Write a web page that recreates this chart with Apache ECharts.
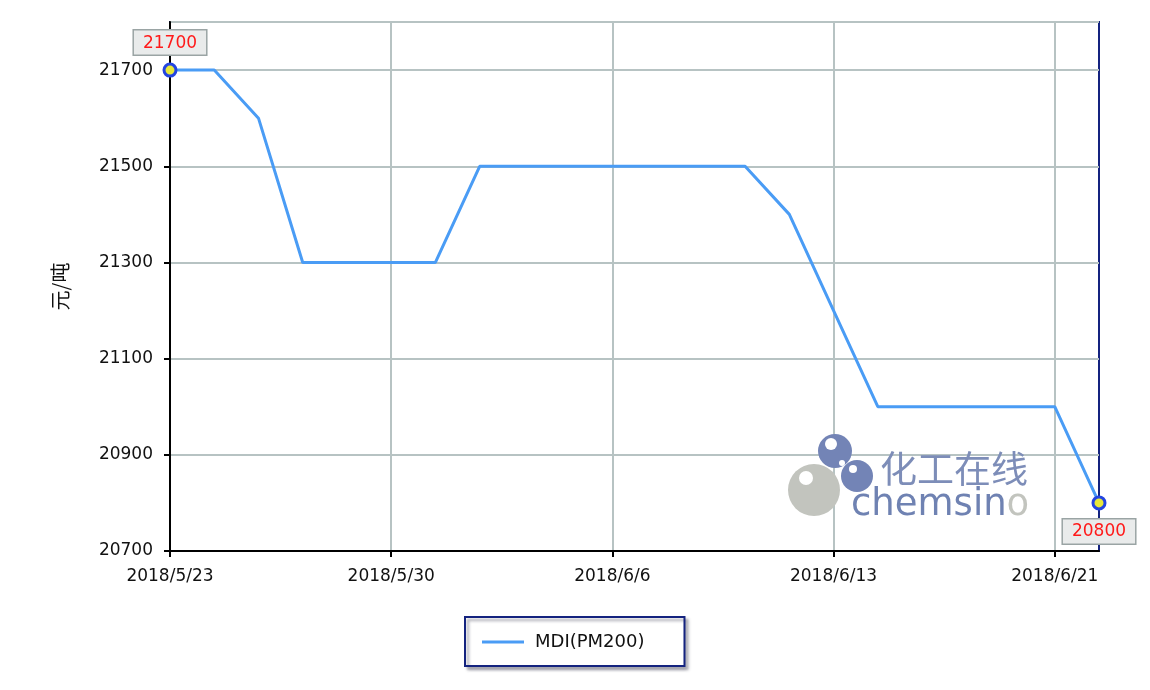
<!DOCTYPE html>
<html><head><meta charset="utf-8">
<script src="https://cdn.jsdelivr.net/npm/echarts@6/dist/echarts.min.js"></script>
<style>html,body{margin:0;padding:0;background:#fff}#c{width:1150px;height:690px}</style>
</head><body><div id="c"></div>
<script>
const categories = ['2018/5/23','2018/5/24','2018/5/25','2018/5/28','2018/5/29','2018/5/30','2018/5/31','2018/6/1','2018/6/4','2018/6/5','2018/6/6','2018/6/7','2018/6/8','2018/6/11','2018/6/12','2018/6/13','2018/6/14','2018/6/15','2018/6/19','2018/6/20','2018/6/21','2018/6/22'];
const values = [21700,21700,21600,21300,21300,21300,21300,21500,21500,21500,21500,21500,21500,21500,21400,21200,21000,21000,21000,21000,21000,20800];
const seriesName = 'MDI(PM200)';
const yAxisName = '元/吨';

const font = '"DejaVu Sans", Arial, sans-serif';
const labelBox = {show:true, color:'#ff1a1a', fontSize:17, fontFamily:font, backgroundColor:'#e9ebeb', borderColor:'#9aa4a4', borderWidth:1.5, padding:[4,9,3,9]};
const data = values.map((v,i)=>{
  if(i===0) return {value:v, symbol:'circle', symbolSize:12, label:Object.assign({position:'top', distance:8, formatter:'{c}'},labelBox)};
  if(i===values.length-1) return {value:v, symbol:'circle', symbolSize:12, label:Object.assign({position:'bottom', distance:9, formatter:'{c}'},labelBox)};
  return {value:v, symbol:'none'};
});

const chart = echarts.init(document.getElementById('c'));
chart.setOption({
  animation:false,
  textStyle:{fontFamily:font},
  grid:{left:170, right:51, top:22, bottom:139, show:true, borderColor:'#14237f', borderWidth:2, backgroundColor:'transparent'},
  xAxis:{type:'category', data:categories, boundaryGap:false,
    axisLine:{lineStyle:{color:'#000', width:2}},
    axisTick:{show:true, interval:4, length:6, lineStyle:{color:'#000', width:2}},
    axisLabel:{interval:4, color:'#111', fontSize:17, fontFamily:font, margin:17},
    splitLine:{show:true, interval:4, lineStyle:{color:'#b7c3c3', width:2}}},
  yAxis:{type:'value', min:20700, max:21800, interval:200, name:yAxisName, nameLocation:'middle', nameGap:100,
    nameTextStyle:{fontSize:20, color:'#111', fontFamily:'"Noto Sans CJK SC", sans-serif'},
    axisLine:{show:true, lineStyle:{color:'#000', width:2}},
    axisTick:{show:true, length:6, lineStyle:{color:'#000', width:2}},
    axisLabel:{color:'#111', fontSize:17, fontFamily:font, margin:17, showMaxLabel:false, formatter:v=>String(v)},
    splitLine:{show:true, lineStyle:{color:'#b7c3c3', width:2}}},
  legend:{left:465, top:617, data:[{name:seriesName, icon:'path://M0,4 L40,4 L40,7 L0,7 Z'}], itemWidth:42, itemHeight:7, itemGap:10,
    padding:[16,40,15,17], borderColor:'#14237f', borderWidth:2, backgroundColor:'#fff',
    shadowColor:'rgba(60,60,80,0.45)', shadowBlur:3, shadowOffsetX:3, shadowOffsetY:3,
    textStyle:{fontSize:18, color:'#111', fontFamily:font, padding:[0,0,0,6]}, itemStyle:{color:'#4a9cf5', borderWidth:0}},
  graphic:[
    {type:'circle', shape:{cx:814, cy:490, r:26}, style:{fill:'#c2c4be'}, z:1},
    {type:'circle', shape:{cx:806, cy:478, r:7}, style:{fill:'#fff'}, z:1},
    {type:'circle', shape:{cx:835, cy:451, r:17}, style:{fill:'#7384b6'}, z:1},
    {type:'circle', shape:{cx:831, cy:444, r:6}, style:{fill:'#fff'}, z:1},
    {type:'circle', shape:{cx:842, cy:463, r:3}, style:{fill:'#fff'}, z:1},
    {type:'circle', shape:{cx:857, cy:476, r:16}, style:{fill:'#7384b6'}, z:1},
    {type:'circle', shape:{cx:853, cy:469, r:4}, style:{fill:'#fff'}, z:1},
    {type:'text', style:{x:880, y:469, text:'化工在线', fontSize:37, fill:'#7d8db8', fontFamily:'"Noto Sans CJK SC", sans-serif', verticalAlign:'middle'}, z:1},
    {type:'text', style:{x:851, y:505, text:'{a|chemsin}{b|o}', fontSize:37, fontFamily:'"DejaVu Sans", sans-serif', verticalAlign:'middle',
      rich:{a:{fontSize:37, fill:'#6f82b2', fontFamily:'"DejaVu Sans", sans-serif'}, b:{fontSize:37, fill:'#c2c4be', fontFamily:'"DejaVu Sans", sans-serif'}}}, z:1}
  ],
  series:[{name:seriesName, type:'line', data:data, showSymbol:true,
    lineStyle:{color:'#4a9cf5', width:3}, itemStyle:{color:'#e8e83a', borderColor:'#2345e0', borderWidth:3},
    z:3}]
});
</script></body></html>
